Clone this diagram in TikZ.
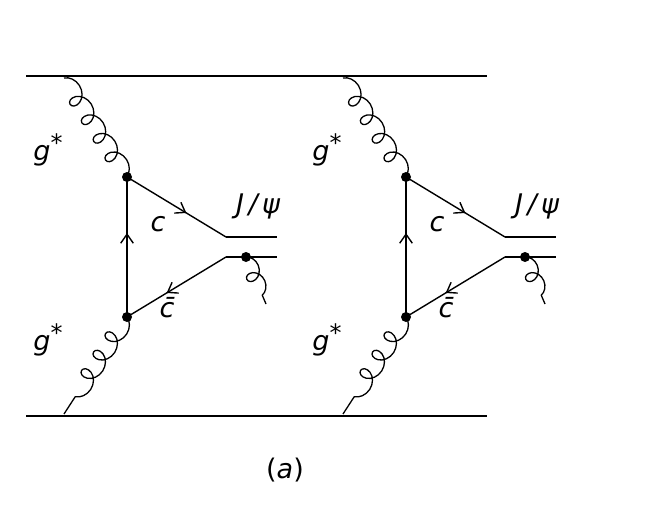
\documentclass[tikz,border=0pt]{standalone}
\usepackage{fontspec}
\setmainfont{DejaVu Sans}
\usetikzlibrary{decorations.pathmorphing,decorations.markings,arrows.meta}
\begin{document}
\begin{tikzpicture}[x=1pt,y=-1pt]
    % Stili per le linee
    \tikzstyle{line}=[line width=1.4pt]
    \tikzstyle{gluon}=[line width=1.3pt, decorate, decoration={coil, aspect=1, segment length=22pt, amplitude=9pt}]
    \tikzstyle{quark}=[line, postaction={decorate}, decoration={markings, mark=at position 0.6 with {\arrow[line width=1.4pt]{Straight Barb[angle=70:11pt]}}}]
    \tikzstyle{vertex}=[circle, fill=black, inner sep=0pt, minimum size=10pt]
    \tikzstyle{lbl}=[font=\fontsize{27}{30}\selectfont\itshape, inner sep=0pt]

    \useasboundingbox (0,0) rectangle (647,516);

    % Linee dei protoni
    \coordinate (topL) at (26,76);
    \coordinate (topR) at (487,76);
    \coordinate (botL) at (26,416);
    \coordinate (botR) at (487,416);
    \draw[line] (topL) -- (topR);
    \draw[line] (botL) -- (botR);

    % Due diagrammi a triangolo
    \foreach \dx/\n in {0/a, 279/b} {
        \begin{scope}[xshift=\dx]
            \node[vertex] (up\n) at (127,177) {};
            \node[vertex] (dn\n) at (127,317) {};
            \coordinate (jt\n) at (226,237);
            \coordinate (je\n) at (277,237);
            \coordinate (jb\n) at (226,257);
            \coordinate (jf\n) at (277,257);
            \node[vertex] (em\n) at (246,257) {};
            \coordinate (gs\n) at (64,78);
            \coordinate (ge\n) at (64,414);
            \coordinate (gx\n) at (266,304);

            % Gluoni
            \draw[gluon] (gs\n) -- (up\n.center);
            \draw[gluon] (dn\n.center) -- (ge\n);
            \draw[gluon, decoration={segment length=17pt, amplitude=8pt}] (em\n.center) -- (gx\n);

            % Quark
            \draw[quark] (up\n.center) -- (jt\n);
            \draw[line] (jt\n) -- (je\n);
            \draw[quark] (jb\n) -- (dn\n.center);
            \draw[line] (jb\n) -- (jf\n);
            \draw[quark] (dn\n.center) -- (up\n.center);

            % Etichette
            \node[lbl] (g1\n) at (48,150) {g\raisebox{9pt}{\fontsize{24}{24}\selectfont\upshape *}};
            \node[lbl] (g2\n) at (48,340) {g\raisebox{9pt}{\fontsize{24}{24}\selectfont\upshape *}};
            \node[lbl] (c\n) at (158,224) {c};
            \node[lbl] (cb\n) at (167,308) {\=c};
            \node[lbl] (jp\n) at (258,206) {J\,/\,ψ};
        \end{scope}
    }

    \node[lbl] (cap) at (285,470) {\upshape(\textit{a})};
\end{tikzpicture}
\end{document}
